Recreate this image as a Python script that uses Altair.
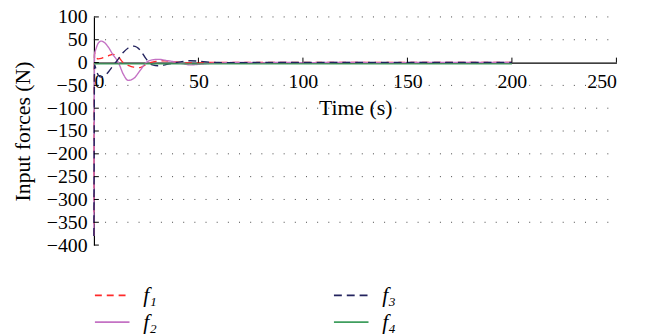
import altair as alt
import pandas as pd

# ---- data ----
t = [0, 0.3, 1, 2, 3.5, 5, 7, 9, 11.7, 14, 16.4, 19, 22, 25, 28, 31, 34, 38, 42, 46,
     50, 55, 60, 70, 80, 90, 100, 120, 140, 160, 180, 200]
f1 = [-380, 22, 12, 8, 9, 12, 15, 18, 12, 0, -6, -10, -11, -4, 1, 3, 4, 2, 0, -1,
      -1, 0, 0, 0.5, 0, 0, 0, 0, 0, 0, 0, 0]
f2 = [-380, 18, 30, 42, 47, 44, 33, 18, 0, -25, -39, -35, -18, 0, 6, 7, 5, 2, -2, -5,
      -4, -2, -1, 0.5, -1, 0.5, -0.5, 0.5, -0.5, 0.3, 0, 0]
f3 = [-380, -5, -15, -27, -32, -29, -20, -8, 8, 22, 32, 36, 28, 8, -5, -7, -5, -1, 2, 4,
      3, 1, 0, -0.5, 0.5, 0, 0, 0, 0, 0, 0, 0]
f4 = [-3] * len(t)

names = ["f\u2081", "f\u2082", "f\u2083", "f\u2084"]
series = [f1, f2, f3, f4]
colors = ["#ff2a2a", "#c472c4", "#23235e", "#3f9e5e"]
dashes = [[7, 5], [1, 0], [8, 5], [1, 0]]

x_ticks = [0, 50, 100, 150, 200, 250]
y_ticks = [100, 50, 0, -50, -100, -150, -200, -250, -300, -350, -400]
grid_vals = [100, 50, -50, -100, -150, -200, -250, -300, -350]

rows = []
for n, s in zip(names, series):
    for tt, v in zip(t, s):
        rows.append({"t": tt, "v": v, "s": n})
df = pd.DataFrame(rows)

FONT = "Liberation Serif"
W, H = 529, 231

xscale = alt.Scale(domain=[0, 250], nice=False, zero=False)
yscale = alt.Scale(domain=[-400, 100], nice=False, zero=False)

xa = alt.Axis(title="Time (s)", values=x_ticks, grid=False, ticks=False,
              offset=-(H * 400 / 500), labelPadding=9, labelOverlap=False,
              labelFont=FONT, labelFontSize=20, labelColor="black",
              titleFont=FONT, titleFontSize=22, titleFontWeight="normal",
              titleColor="black", titlePadding=7, domainColor="black", domainWidth=1.2)
ya = alt.Axis(title="Input forces (N)", values=y_ticks, grid=False, ticks=False,
              labelPadding=7, labelOverlap=False,
              labelFont=FONT, labelFontSize=20, labelColor="black",
              titleFont=FONT, titleFontSize=22, titleFontWeight="normal",
              titleColor="black", titlePadding=12, domainColor="black", domainWidth=1.2)

grid = alt.Chart(pd.DataFrame({"g": grid_vals})).mark_rule(
    color="#444", strokeDash=[1, 10.3], strokeWidth=1
).encode(
    x=alt.datum(0, scale=xscale, axis=xa),
    x2=alt.datum(250),
    y=alt.Y("g:Q", scale=yscale, axis=ya),
)

lines = alt.Chart(df).mark_line(strokeWidth=1.4, interpolate="monotone").encode(
    x=alt.X("t:Q", scale=xscale, axis=xa),
    y=alt.Y("v:Q", scale=yscale, axis=ya),
    color=alt.Color("s:N", scale=alt.Scale(domain=names, range=colors),
                    legend=alt.Legend(title=None, orient="none", legendX=0, legendY=273,
                                      direction="vertical",
                                      columns=2, columnPadding=178, rowPadding=5,
                                      clipHeight=18,
                                      symbolType="stroke", symbolSize=1225,
                                      symbolStrokeWidth=1.8, labelFont=FONT,
                                      labelFontSize=22, labelFontStyle="italic",
                                      labelOffset=13, labelColor="black")),
    strokeDash=alt.StrokeDash("s:N", scale=alt.Scale(domain=names, range=dashes),
                              legend=None),
    detail="s:N",
)

xt = alt.Chart(pd.DataFrame({"xt": x_ticks[1:]})).mark_rule(
    color="black", strokeWidth=1, y2Offset=-5
).encode(
    x=alt.X("xt:Q", scale=xscale, axis=xa),
    y=alt.datum(0, scale=yscale, axis=ya),
    y2=alt.datum(0),
)

yt = alt.Chart(pd.DataFrame({"yt": y_ticks})).mark_rule(
    color="black", strokeWidth=1, x2Offset=5
).encode(
    x=alt.datum(0, scale=xscale, axis=xa),
    x2=alt.datum(0),
    y=alt.Y("yt:Q", scale=yscale, axis=ya),
)

chart = alt.layer(grid, lines, xt, yt).properties(
    width=W, height=H,
    autosize=alt.AutoSizeParams(type="none"),
    padding={"left": 87, "top": 7, "right": 34, "bottom": 90},
).configure_view(stroke=None).configure_axis(labelOverlap=False)

chart.save("out.html", embed_options={"renderer": "svg", "actions": False})
